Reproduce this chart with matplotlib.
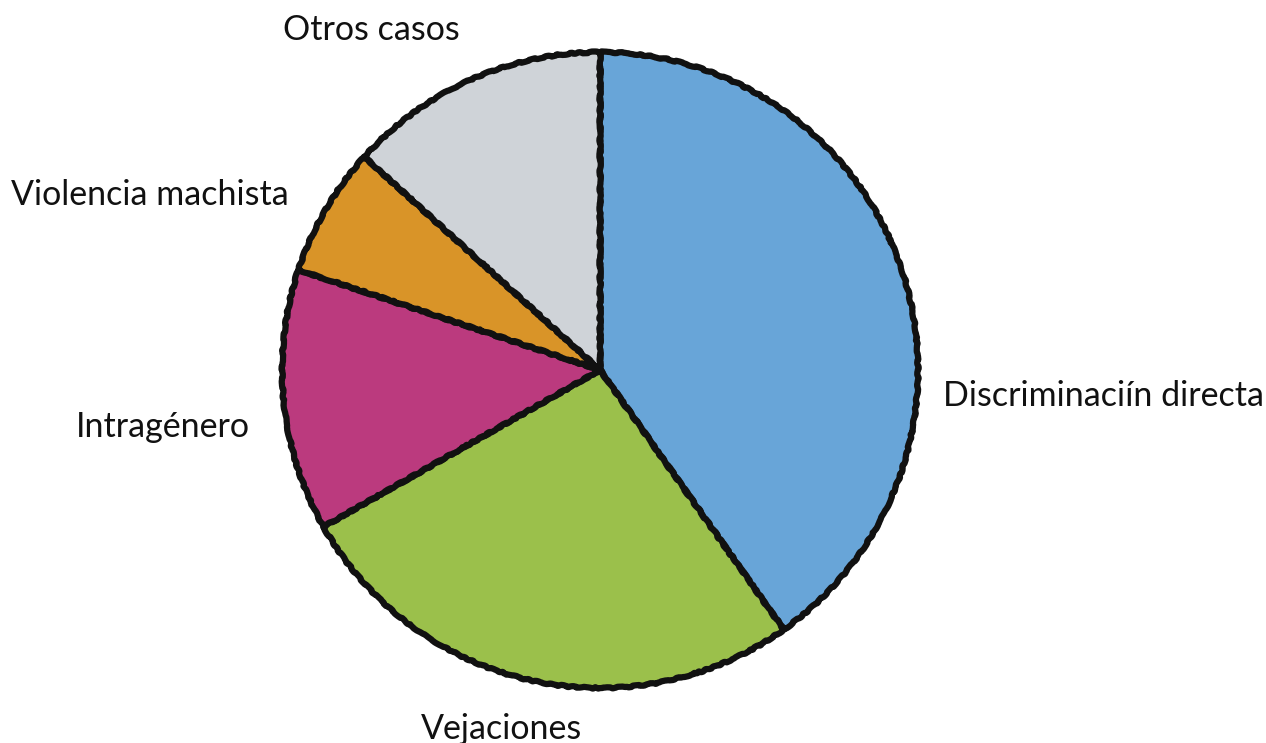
import matplotlib
matplotlib.use('Agg')
import matplotlib.pyplot as plt

# Category labels and shares (percent)
categories = ['Discriminaciín directa', 'Vejaciones', 'Intragénero',
              'Violencia machista', 'Otros casos']
values = [40.2, 26.6, 13.3, 6.6, 13.3]
colors = ['#68A5D8', '#9BC04B', '#BB3A7E', '#D99428', '#CFD3D8']

# Label anchors (data units, pie radius = 1) and alignment
label_pos = [(1.08, -0.08), (-0.31, -1.13), (-1.10, -0.18), (-0.98, 0.55), (-0.72, 1.07)]
label_ha = ['left', 'center', 'right', 'right', 'center']

plt.rcParams['font.family'] = ['Lato', 'DejaVu Sans']

fig = plt.figure(figsize=(12.66, 7.43), dpi=100)
ax = fig.add_axes([0, 0, 1, 1])

wedges, _ = ax.pie(values, colors=colors, startangle=90, counterclock=False,
                   radius=1.0, wedgeprops=dict(edgecolor='#111111', linewidth=4.5,
                                               joinstyle='round'))
# light hand-drawn wobble on the outlines
for w in wedges:
    w.set_sketch_params(scale=0.7, length=25, randomness=8)

for name, (x, y), ha in zip(categories, label_pos, label_ha):
    ax.text(x, y, name, ha=ha, va='center', fontsize=24.5, color='#111111')

ax.set_xlim(-1.887, 2.094)
ax.set_ylim(-1.173, 1.164)
ax.set_aspect('equal')
ax.axis('off')

fig.savefig('out.png', dpi=100)
